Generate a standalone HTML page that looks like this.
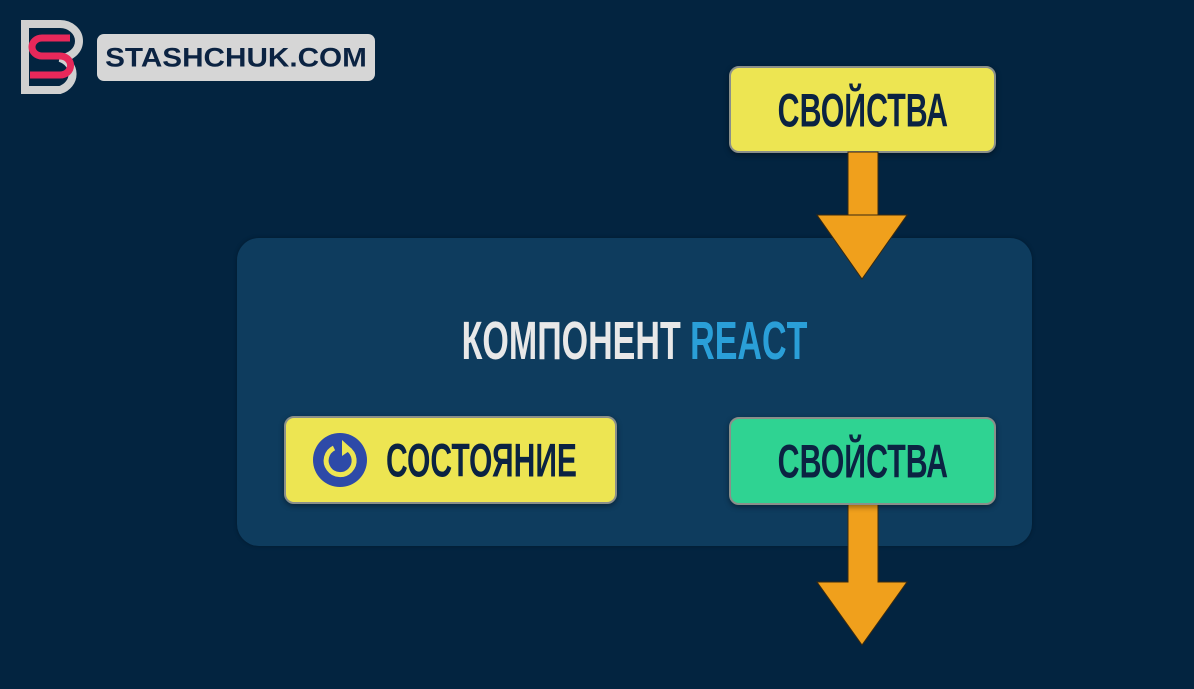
<!DOCTYPE html>
<html><head><meta charset="utf-8"><style>
html,body{margin:0;padding:0;}
body{width:1194px;height:689px;background:#032440;position:relative;overflow:hidden;font-family:"Liberation Sans",sans-serif;}
.abs{position:absolute;}
.box{position:absolute;border-radius:10px;box-sizing:border-box;border:2px solid #8a8f8a;box-shadow:0 2px 6px rgba(0,0,0,0.4);}
.lbl{position:absolute;left:0;right:0;top:50%;text-align:center;font-weight:bold;color:#0b2342;font-size:47px;line-height:1;white-space:nowrap;transform:translateY(-50%) scaleX(0.645);}
</style></head><body>
<div class="abs" style="left:20px;top:20px;width:64px;height:74px;">
<svg width="64" height="74" viewBox="0 0 64 74">
<path d="M5 4 H40 A19 17 0 0 1 40 38 A19 17 0 0 1 40 70 H5 Z" fill="none" stroke="#d0d0d0" stroke-width="8"/>
<path d="M50 18 H22 A10 9 0 0 0 22 36 H40 A10 9 0 0 1 40 55 H10" fill="none" stroke="#e8285a" stroke-width="7"/>
</svg></div>
<div class="abs" style="left:97px;top:34px;width:278px;height:47px;background:#d6d6d6;border-radius:7px;">
<span style="position:absolute;left:0;right:0;top:50%;text-align:center;transform:translateY(-50%) scaleX(1.1);font-weight:bold;font-size:27px;color:#0b2342;line-height:1;">STASHCHUK.COM</span></div>

<div class="box" style="left:729px;top:66px;width:267px;height:87px;background:#ede552;">
<span class="lbl">СВОЙСТВА</span></div>

<svg class="abs" style="left:0;top:0" width="1194" height="689">
<polygon points="848,152 878,152 878,215 907,215 862,279 817,215 848,215" fill="#f0a01c" stroke="#3a2a10" stroke-width="1"/>
</svg>

<div class="abs" style="left:237px;top:238px;width:795px;height:308px;background:#0e3c5e;border-radius:22px;box-shadow:0 0 4px rgba(0,0,0,0.3);"></div>
<svg class="abs" style="left:0;top:0" width="1194" height="689">
<polygon points="817,215 907,215 862,279" fill="#f0a01c" stroke="#3a2a10" stroke-width="1"/>
<polygon points="848,503 878,503 878,582 907,582 862,645 817,582 848,582" fill="#f0a01c" stroke="#3a2a10" stroke-width="1"/>
</svg>
<div class="abs" style="left:237px;width:795px;top:341px;height:0;">
<span class="lbl" style="font-size:54px;color:#e8e8e8;transform:translateY(-50%) scaleX(0.63);">КОМПОНЕНТ <span style="color:#2a9fd8">REACT</span></span></div>

<div class="box" style="left:284px;top:416px;width:333px;height:88px;background:#ede552;">
<svg width="56" height="56" viewBox="0 0 56 56" style="position:absolute;left:26px;top:14px;">
<circle cx="28" cy="28" r="27" fill="#2e4aa8"/>
<path d="M22 16 A14 14 0 1 0 36 17" fill="none" stroke="#ede552" stroke-width="5"/>
<polygon points="30,8 40,17 30,24" fill="#ede552"/>
</svg>
<span class="lbl" style="left:100px;right:auto;text-align:left;transform-origin:left center;transform:translateY(-50%) scaleX(0.64);">СОСТОЯНИЕ</span></div>

<div class="box" style="left:729px;top:417px;width:267px;height:88px;background:#2fd392;">
<span class="lbl">СВОЙСТВА</span></div>
</body></html>
